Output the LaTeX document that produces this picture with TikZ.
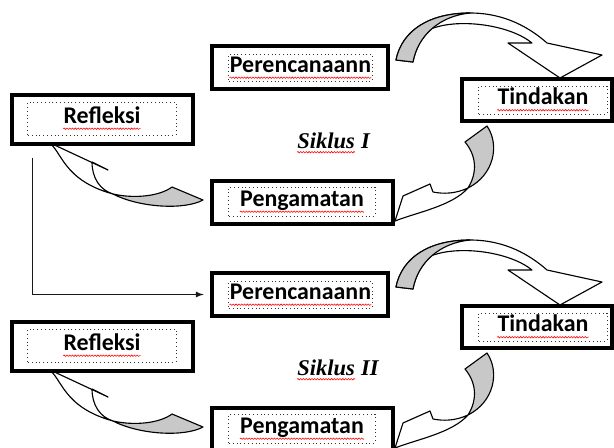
\documentclass[tikz,border=0pt]{standalone}
\usepackage{fontspec}
\newfontfamily\kotakfont{Carlito}
\newfontfamily\siklusfont{Liberation Serif}
\usetikzlibrary{arrows,calc,decorations.pathmorphing}
\definecolor{abu}{RGB}{200,200,200}
\tikzstyle{luar}=[draw=black, line width=2.2pt, fill=white, inner sep=0pt]
\tikzstyle{dalam}=[draw=black!80, dotted, line width=0.7pt, inner sep=0pt]
\tikzstyle{tulisan}=[inner sep=0pt, text height=10pt, text depth=3.5pt, font=\kotakfont\bfseries\fontsize{17}{19}\selectfont]
\tikzstyle{siklus}=[inner sep=0pt, anchor=base west, font=\siklusfont\bfseries\itshape\fontsize{16}{18}\selectfont]
\tikzstyle{spell}=[red, line width=0.4pt, decorate, decoration={snake, amplitude=0.5pt, segment length=2pt}]
\tikzstyle{pita}=[draw=black, line width=0.8pt, line join=round]
\tikzstyle{garis}=[draw=black!90, line width=0.9pt, -latex]
% name, outer centre, inner centre, outer w/h, inner w/h, text
\newcommand{\kotak}[8]{
  \node[luar, minimum width=#4, minimum height=#5] (#1) at (#2) {};
  \node[dalam, minimum width=#6, minimum height=#7] (#1-d) at (#3) {};
  \node[tulisan] (#1-t) at (#1-d) {#8};
  \draw[spell] ([yshift=-4pt]#1-t.base west) -- ([yshift=-4pt]#1-t.base east);
}

\begin{document}
\begin{tikzpicture}[x=0.025cm, y=-0.025cm]
\useasboundingbox (0,0) rectangle (614,448);
\clip (0,0) rectangle (614,448);

\foreach \n/\r/\dy in {1/I/0, 2/II/227}{
\begin{scope}[shift={(0,\dy)}]
% perencanaan -> tindakan
\filldraw[pita, fill=white]
  (396,60) .. controls (402,30) and (430,13) .. (470,13)
   .. controls (505,13) and (530,28) .. (547,43)
   -- (602,55) -- (560,78) -- (508,43) -- (532,43)
   .. controls (510,25) and (460,18) .. (432,28.5)
   .. controls (422,37) and (415.5,48.5) .. (413,62) -- cycle;
\filldraw[pita, fill=abu]
  (396,60) .. controls (402,30) and (430,13) .. (470,13)
   .. controls (440,16) and (418,35) .. (413,62) -- cycle;

% tindakan -> pengamatan
\filldraw[pita, fill=white]
  (468,188) .. controls (455,194) and (443,194) .. (433,192)
   -- (430,184) -- (403,196) -- (395,221)
   .. controls (418,212) and (452,206) .. (468,188) -- cycle;
\filldraw[pita, fill=abu]
  (465,142) -- (487,126) .. controls (500,145) and (494,175) .. (468,188)
   .. controls (478,172) and (476,155) .. (465,142) -- cycle;

% pengamatan -> refleksi
\filldraw[pita, fill=white]
  (48,142) -- (108,170) -- (92,162)
   .. controls (92,178) and (100,190) .. (113,194)
   .. controls (62,180) and (62,150) .. (48,142) -- cycle;
\filldraw[pita, fill=abu]
  (113,194) .. controls (135,199) and (160,196) .. (172,187)
   -- (203,200) .. controls (185,210) and (140,208) .. (113,194) -- cycle;

\kotak{per\n}{300,67.5}{300.5,67.5}{4.4cm}{1.075cm}{3.575cm}{0.675cm}{Perencanaann}
\kotak{tin\n}{537,100}{543,100}{3.75cm}{1.05cm}{3.2cm}{0.7cm}{Tindakan}
\kotak{ref\n}{102.5,119.5}{102,118.5}{4.525cm}{1.225cm}{3.7cm}{0.825cm}{Refleksi}
\kotak{pen\n}{302.5,202.5}{302,201.5}{4.525cm}{1.075cm}{3.65cm}{0.725cm}{Pengamatan}

\node[siklus] (sik\n) at (297,148) {Siklus};
\node[siklus] (sik\n-r) at ([xshift=4pt]sik\n.base east) {\r};
\draw[spell] ([yshift=-3pt]sik\n.base west) -- ([yshift=-3pt]sik\n.base east);
\end{scope}
}

\coordinate (awal) at ($(ref1.south west)+(22,12)$);
\draw[garis, shorten >=0.17cm] (awal) |- (per2.west);

\end{tikzpicture}
\end{document}
